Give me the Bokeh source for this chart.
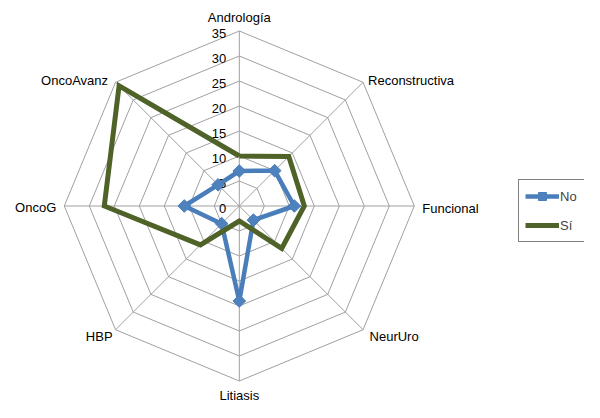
import numpy as np
from bokeh.plotting import figure
from bokeh.models import Range1d, Legend, LegendItem
from bokeh.core.properties import value
from bokeh.embed import file_html
from bokeh.resources import INLINE

# ---- data ----
categories = ["Andrología", "Reconstructiva", "Funcional", "NeurUro",
              "Litiasis", "HBP", "OncoG", "OncoAvanz"]
values_no = [7, 10, 11, 4, 19, 5, 11, 6]
values_si = [10, 14, 13, 12, 3, 11, 27, 34]
series_names = ["No", "Sí"]
tick_values = [0, 5, 10, 15, 20, 25, 30, 35]
r_max = 35

# ---- layout / style ----
W, H = 584, 402
cx, cy = 238.8, 205.5          # centre of radar in figure pixels (from left / top)
k = 175.0 / r_max               # pixels per unit
FONT = "Liberation Sans"
FS = "13px"
GRID = "#a0a0a0"
BLUE = "#4A7EBB"
BLUE_FILL = "#4F81BD"
GREEN = "#4F6228"

p = figure(width=W, height=H, output_backend="svg", toolbar_location=None,
           x_range=Range1d(-cx / k, (W - cx) / k),
           y_range=Range1d(-(H - cy) / k, cy / k),
           x_axis_type=None, y_axis_type=None, min_border=0,
           outline_line_color=None, background_fill_color="white",
           border_fill_color="white")

n = len(categories)
ang = np.pi / 2 - np.arange(n) * 2 * np.pi / n
ca, sa = np.cos(ang), np.sin(ang)

# grid octagons
xs, ys = [], []
for t in tick_values[1:]:
    xs.append(list(t * ca) + [t * ca[0]])
    ys.append(list(t * sa) + [t * sa[0]])
p.multi_line(xs, ys, line_color=GRID, line_width=1)
# spokes
p.segment(x0=[0] * n, y0=[0] * n, x1=list(r_max * ca), y1=list(r_max * sa),
          line_color=GRID, line_width=1)

# radial tick labels
p.text(x=[0] * len(tick_values), y=tick_values, text=[str(t) for t in tick_values],
       x_offset=-13, y_offset=2, text_align="right", text_baseline="middle",
       text_font=value(FONT), text_font_size=FS, text_color="black")

# category labels: (x_offset, y_offset, align)
label_style = [(0, -14, "center"), (5, -2, "left"), (8, 2.5, "left"), (6.5, 7, "left"),
               (0, 14, "center"), (-3, 7, "right"), (-8, 1, "right"), (-7.5, -2, "right")]
for i, c in enumerate(categories):
    dx, dy, al = label_style[i]
    p.text(x=[r_max * ca[i]], y=[r_max * sa[i]], text=[c], x_offset=dx, y_offset=dy,
           text_align=al, text_baseline="middle", text_font=value(FONT),
           text_font_size=FS, text_color="black")

# series
vn = np.array(values_no, dtype=float)
vs = np.array(values_si, dtype=float)
xn, yn = vn * ca, vn * sa
xsi, ysi = vs * ca, vs * sa

l_no = p.line(list(xn) + [xn[0]], list(yn) + [yn[0]], line_color=BLUE,
              line_width=4.5, line_join="round")
m_no = p.scatter(list(xn), list(yn), marker="square", angle=np.pi / 4, size=9,
                 fill_color=BLUE_FILL, line_color=BLUE, line_width=1)
l_si = p.line(list(xsi) + [xsi[0]], list(ysi) + [ysi[0]], line_color=GREEN,
              line_width=5, line_join="miter")

legend = Legend(items=[LegendItem(label=series_names[0], renderers=[l_no, m_no]),
                       LegendItem(label=series_names[1], renderers=[l_si])],
                location=(518, 160), orientation="vertical",
                label_text_font=FONT, label_text_font_size=FS,
                glyph_width=34, glyph_height=20, label_height=20, label_width=18,
                label_standoff=1, spacing=9, padding=6, margin=0,
                border_line_color="black", border_line_width=1,
                background_fill_color="white", background_fill_alpha=1)
p.add_layout(legend)

open("out.html", "w").write(file_html(p, INLINE))
